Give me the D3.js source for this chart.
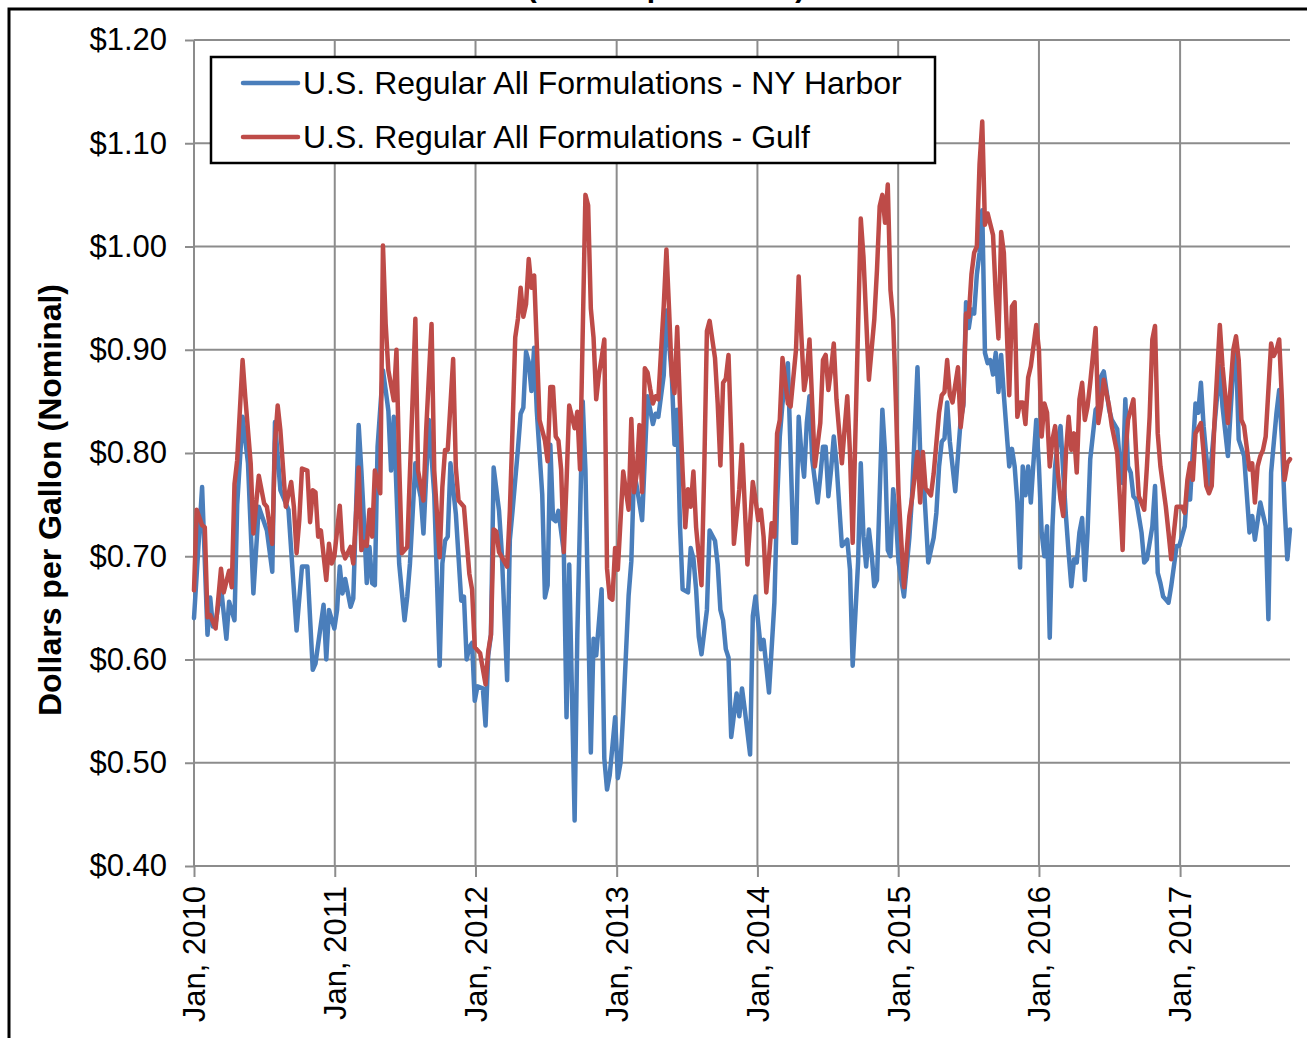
<!DOCTYPE html>
<html><head><meta charset="utf-8">
<script src="https://cdn.jsdelivr.net/npm/d3@7"></script>
<style>
body{margin:0;background:#fff;}
svg{display:block;font-family:"Liberation Sans",Arial,Helvetica,sans-serif;}
</style>
</head><body>
<svg id="chart" width="1307" height="1038"></svg>
<script>
// ---------------- data ----------------
const titleText = "(Dollars per Gallon)";
const yAxisTitle = "Dollars per Gallon (Nominal)";
const seriesNames = ["U.S. Regular All Formulations - NY Harbor", "U.S. Regular All Formulations - Gulf"];
const seriesColors = ["#4A7EBB", "#BE4B48"];
const startDate = "2010-01-01";            // weekly data, week 0 = first week of Jan 2010
const lastWeek = 406;
const yTicks = [0.40, 0.50, 0.60, 0.70, 0.80, 0.90, 1.00, 1.10, 1.20];
const xTickYears = [2010, 2011, 2012, 2013, 2014, 2015, 2016, 2017];

const nyWeek = [0,3,5,6,7,8,10,12,13,15,16,18,20,22,24,27,29,30,32,35,38,40,42,44,45,48,49,50,
52,53,54,55,56,58,59,61,62,63,64,65,66,67,68,70,71,72,73,74,76,78,79,80,82,83,84,85,87,89,91,92,93,94,95,97,99,100,101,
102,103,104,105,107,108,109,110,111,113,114,116,117,118,120,121,122,123,124,125,126,127,129,130,131,132,133,134,135,137,138,139,141,142,144,145,147,148,149,151,152,153,154,156,157,
158,159,161,162,163,164,166,168,169,170,171,172,174,175,177,178,179,180,181,183,184,185,186,187,188,190,191,193,194,195,196,197,198,199,201,202,203,204,206,207,
208,210,211,213,215,216,217,218,220,221,222,223,224,225,226,227,228,229,231,232,233,234,235,236,237,238,240,242,243,244,246,247,248,249,250,251,252,253,255,256,257,258,259,260,
261,263,265,266,268,269,270,272,274,275,276,277,278,279,280,281,282,284,285,286,287,288,289,290,291,292,293,294,295,296,297,298,299,300,302,303,304,305,306,307,308,309,310,
312,313,314,315,316,317,318,319,320,321,322,323,324,325,326,327,328,329,330,331,332,334,335,336,337,338,339,340,342,343,344,345,346,347,348,349,351,352,353,355,356,357,358,359,360,361,
362,364,365,367,368,369,371,372,373,374,375,376,378,380,381,383,385,386,387,389,391,392,393,395,397,398,399,401,402,403,404,405,406];
const nyValue = [0.64,0.767,0.624,0.66,0.632,0.635,0.67,0.62,0.656,0.638,0.75,0.835,0.79,0.664,0.748,0.725,0.685,0.83,0.764,0.745,0.628,0.69,0.69,0.59,0.596,0.653,0.60,0.648,
0.63,0.648,0.69,0.664,0.678,0.651,0.659,0.827,0.783,0.732,0.674,0.709,0.674,0.672,0.806,0.88,0.861,0.841,0.783,0.835,0.693,0.638,0.661,0.693,0.79,0.77,0.757,0.722,0.832,0.76,0.594,0.693,0.715,0.719,0.79,0.741,0.657,0.661,0.60,
0.612,0.616,0.56,0.574,0.572,0.536,0.604,0.624,0.786,0.744,0.704,0.58,0.716,0.744,0.804,0.838,0.844,0.898,0.888,0.86,0.902,0.84,0.76,0.66,0.672,0.808,0.736,0.734,0.744,0.704,0.544,0.692,0.444,0.624,0.85,0.784,0.51,0.62,0.604,0.668,0.504,0.474,0.488,0.544,0.485,
0.50,0.548,0.662,0.695,0.782,0.768,0.735,0.855,0.842,0.828,0.838,0.835,0.875,0.938,0.875,0.808,0.842,0.732,0.668,0.665,0.708,0.698,0.668,0.622,0.605,0.648,0.725,0.715,0.692,0.648,0.638,0.61,0.602,0.525,0.567,0.545,0.572,0.552,0.508,0.642,
0.661,0.61,0.619,0.568,0.655,0.752,0.816,0.848,0.887,0.80,0.713,0.713,0.835,0.80,0.777,0.829,0.855,0.794,0.752,0.777,0.806,0.806,0.758,0.784,0.816,0.79,0.71,0.716,0.687,0.594,0.694,0.79,0.719,0.69,0.726,0.703,0.671,0.677,0.842,0.80,0.706,0.70,0.765,0.739,
0.694,0.661,0.718,0.759,0.883,0.801,0.787,0.694,0.718,0.742,0.787,0.811,0.814,0.849,0.811,0.787,0.763,0.832,0.846,0.946,0.921,0.939,0.935,0.973,0.994,1.035,0.897,0.887,0.89,0.876,0.897,0.859,0.895,0.856,0.787,0.804,0.787,0.752,0.689,0.787,0.759,0.787,0.752,
0.832,0.787,0.723,0.70,0.729,0.621,0.729,0.787,0.813,0.826,0.781,0.739,0.703,0.671,0.697,0.694,0.723,0.737,0.677,0.723,0.794,0.842,0.845,0.874,0.879,0.861,0.842,0.832,0.823,0.79,0.771,0.852,0.787,0.781,0.758,0.755,0.723,0.694,0.697,0.729,0.768,0.684,0.674,0.661,0.658,0.655,
0.671,0.71,0.71,0.729,0.768,0.755,0.848,0.839,0.868,0.826,0.797,0.768,0.826,0.884,0.845,0.797,0.884,0.90,0.813,0.797,0.723,0.739,0.716,0.752,0.729,0.639,0.781,0.839,0.861,0.813,0.748,0.697,0.726];

const gulfWeek = [0,1,3,4,5,6,8,10,11,13,14,15,16,18,19,21,22,24,26,27,29,30,31,32,34,36,37,38,39,40,42,43,44,45,46,47,49,50,51,
52,54,55,56,58,59,61,62,63,64,65,66,67,69,70,71,72,74,75,76,77,79,81,82,83,85,86,88,89,91,92,93,94,96,97,98,100,
102,103,104,106,108,109,110,111,112,113,116,117,118,119,120,121,122,123,124,125,126,127,128,130,131,132,133,134,135,136,137,138,139,141,142,143,145,146,147,148,149,150,151,152,153,154,155,156,157,
159,161,162,163,164,165,166,167,168,169,170,171,172,173,174,175,176,177,178,179,180,181,182,183,184,185,186,188,189,190,191,193,194,195,196,197,198,199,200,202,203,205,207,
208,209,210,211,212,214,215,216,217,218,220,221,223,224,225,226,227,228,229,230,232,233,234,235,236,237,238,240,241,242,243,244,247,248,250,252,253,254,255,256,257,258,259,260,
261,263,265,266,268,269,270,271,273,274,276,277,278,279,280,281,283,284,285,286,287,288,289,290,291,292,293,294,296,297,298,299,300,301,302,303,304,305,306,307,308,309,310,
312,313,314,315,316,317,318,319,320,321,322,323,324,325,326,327,328,329,330,331,332,334,335,336,337,339,340,342,343,344,345,346,348,349,350,352,353,354,355,356,357,358,360,361,
362,363,364,366,367,368,369,370,371,373,374,375,376,377,378,380,381,383,385,386,387,388,389,391,392,393,394,395,396,397,399,400,401,402,403,404,405,406];
const gulfValue = [0.667,0.745,0.73,0.728,0.641,0.643,0.63,0.688,0.665,0.686,0.67,0.77,0.793,0.89,0.854,0.79,0.722,0.778,0.751,0.748,0.712,0.81,0.846,0.822,0.748,0.772,0.748,0.703,0.735,0.785,0.783,0.733,0.764,0.762,0.719,0.725,0.677,0.712,0.693,
0.70,0.749,0.706,0.698,0.709,0.693,0.786,0.706,0.714,0.71,0.745,0.719,0.783,0.761,1.001,0.925,0.88,0.851,0.90,0.79,0.703,0.709,0.854,0.93,0.783,0.754,0.822,0.925,0.783,0.699,0.767,0.803,0.803,0.891,0.786,0.754,0.748,
0.683,0.668,0.612,0.606,0.576,0.608,0.624,0.726,0.724,0.704,0.69,0.744,0.824,0.912,0.93,0.96,0.932,0.944,0.988,0.96,0.972,0.904,0.832,0.812,0.792,0.864,0.864,0.816,0.812,0.784,0.704,0.772,0.846,0.824,0.84,0.784,1.05,1.04,0.94,0.912,0.852,0.876,0.892,0.91,0.688,0.66,0.658,0.708,0.687,
0.782,0.745,0.833,0.762,0.78,0.827,0.762,0.882,0.878,0.862,0.848,0.855,0.852,0.898,0.942,0.997,0.938,0.875,0.858,0.922,0.848,0.782,0.728,0.765,0.748,0.782,0.728,0.672,0.782,0.918,0.928,0.892,0.848,0.788,0.868,0.872,0.895,0.815,0.712,0.765,0.808,0.692,0.772,
0.755,0.735,0.745,0.719,0.665,0.732,0.719,0.819,0.832,0.892,0.848,0.845,0.90,0.971,0.913,0.861,0.877,0.91,0.848,0.787,0.829,0.89,0.895,0.861,0.881,0.906,0.852,0.79,0.823,0.855,0.80,0.713,1.027,0.99,0.871,0.929,0.977,1.039,1.05,1.023,1.06,0.958,0.929,0.85,
0.76,0.67,0.739,0.756,0.801,0.752,0.801,0.766,0.759,0.78,0.839,0.856,0.859,0.89,0.856,0.849,0.883,0.825,0.849,0.935,0.932,0.973,0.994,1.0,1.08,1.121,1.021,1.032,1.011,0.953,0.911,1.014,0.994,0.925,0.856,0.942,0.946,0.835,0.849,0.849,0.828,0.873,0.884,
0.924,0.90,0.816,0.848,0.839,0.787,0.813,0.826,0.781,0.755,0.739,0.80,0.835,0.803,0.819,0.781,0.852,0.868,0.832,0.845,0.868,0.921,0.829,0.845,0.871,0.845,0.826,0.80,0.755,0.706,0.797,0.832,0.852,0.80,0.758,0.745,0.787,0.835,0.91,0.923,0.819,0.787,0.748,0.723,
0.697,0.723,0.748,0.748,0.742,0.774,0.79,0.774,0.819,0.829,0.80,0.768,0.761,0.768,0.829,0.924,0.884,0.829,0.90,0.913,0.89,0.832,0.826,0.784,0.79,0.752,0.787,0.797,0.803,0.816,0.906,0.894,0.90,0.91,0.852,0.774,0.79,0.794];

// ---------------- chart ----------------
const svg = d3.select("#chart");
const W = 1307, H = 1038;
const plot = {left: 194, right: 1290, top: 40, bottom: 866};
const gridColor = "#8c8c8c";

const t0 = d3.utcParse("%Y-%m-%d")(startDate);
const weekDate = w => d3.utcDay.offset(t0, w * 7);

const x = d3.scaleUtc().domain([t0, weekDate(lastWeek)]).range([plot.left, plot.right]);
const y = d3.scaleLinear().domain([0.4, 1.2]).range([plot.bottom, plot.top]);

svg.append("rect").attr("width", W).attr("height", H).attr("fill", "#fff");

// title (only its lower edge is visible above the frame, as in the source)
svg.append("text").attr("x", 666).attr("y", -3).attr("text-anchor", "middle")
  .attr("font-size", 30).attr("font-weight", "bold").text(titleText);

// outer frame
svg.append("rect").attr("x", 9).attr("y", 9).attr("width", 1320).attr("height", 1100)
  .attr("fill", "none").attr("stroke", "#000").attr("stroke-width", 3);

// grid lines
const yearDates = xTickYears.map(yr => new Date(Date.UTC(yr, 0, 1)));
svg.append("g").selectAll("line").data(yTicks).join("line")
  .attr("x1", plot.left).attr("x2", plot.right)
  .attr("y1", d => y(d)).attr("y2", d => y(d))
  .attr("stroke", gridColor).attr("stroke-width", 2);
svg.append("g").selectAll("line").data(yearDates).join("line")
  .attr("x1", d => x(d)).attr("x2", d => x(d))
  .attr("y1", plot.top).attr("y2", plot.bottom)
  .attr("stroke", gridColor).attr("stroke-width", 2);

// axes
const yAxis = svg.append("g").attr("transform", `translate(${plot.left},0)`)
  .call(d3.axisLeft(y).tickValues(yTicks).tickSize(9).tickPadding(18)
        .tickFormat(d => "$" + d.toFixed(2)));
yAxis.select(".domain").remove();
yAxis.selectAll(".tick line").attr("stroke", gridColor).attr("stroke-width", 2);
yAxis.selectAll(".tick text").attr("font-size", 31).attr("fill", "#000")
  .attr("font-family", "Liberation Sans, Arial, sans-serif");

const xAxis = svg.append("g").attr("transform", `translate(0,${plot.bottom})`)
  .call(d3.axisBottom(x).tickValues(yearDates).tickSize(11)
        .tickFormat(d => "Jan, " + d.getUTCFullYear()));
xAxis.select(".domain").remove();
xAxis.selectAll(".tick line").attr("stroke", gridColor).attr("stroke-width", 2);
xAxis.selectAll(".tick text").attr("font-size", 31).attr("fill", "#000")
  .attr("font-family", "Liberation Sans, Arial, sans-serif")
  .attr("transform", "rotate(-90)").attr("text-anchor", "end")
  .attr("x", -20).attr("y", 0).attr("dy", "0.35em");

// y axis title
svg.append("text").attr("transform", "translate(50,500) rotate(-90)")
  .attr("text-anchor", "middle").attr("dy", "0.35em")
  .attr("font-size", 32).attr("font-weight", "bold").text(yAxisTitle);

// series
const line = d3.line().x(d => x(d.date)).y(d => y(d.value));
const series = [
  {name: seriesNames[0], color: seriesColors[0], data: nyWeek.map((w, i) => ({date: weekDate(w), value: nyValue[i]}))},
  {name: seriesNames[1], color: seriesColors[1], data: gulfWeek.map((w, i) => ({date: weekDate(w), value: gulfValue[i]}))}
];
svg.append("g").selectAll("path").data(series).join("path")
  .attr("d", d => line(d.data)).attr("fill", "none")
  .attr("stroke", d => d.color).attr("stroke-width", 4.5)
  .attr("stroke-linejoin", "round").attr("stroke-linecap", "round");

// legend
const lg = svg.append("g");
lg.append("rect").attr("x", 211).attr("y", 57).attr("width", 724).attr("height", 106)
  .attr("fill", "#fff").attr("stroke", "#000").attr("stroke-width", 2.5);
const items = lg.selectAll("g.item").data(series).join("g").attr("class", "item")
  .attr("transform", (d, i) => `translate(0,${83 + i * 54})`);
items.append("line").attr("x1", 243).attr("x2", 298).attr("y1", 0).attr("y2", 0)
  .attr("stroke", d => d.color).attr("stroke-width", 4.5).attr("stroke-linecap", "round");
items.append("text").attr("x", 303).attr("dy", "0.35em").attr("font-size", 32)
  .text(d => d.name);
</script>
</body></html>
